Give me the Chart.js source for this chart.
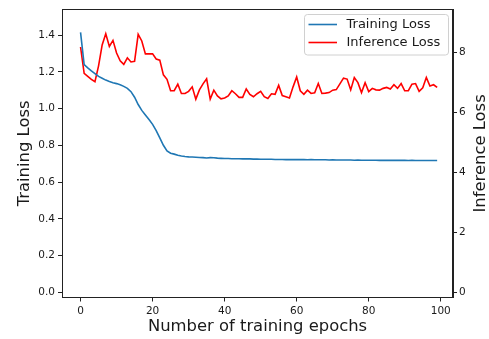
<!DOCTYPE html>
<html>
<head>
<meta charset="utf-8">
<script src="https://cdn.jsdelivr.net/npm/chart.js@4/dist/chart.umd.min.js"></script>
<style>
  html, body { margin: 0; padding: 0; background: #fff; }
  #wrap { width: 489px; height: 339px; }
</style>
</head>
<body>
<div id="wrap"><canvas id="c" width="489" height="339"></canvas></div>
<script>
// Epoch index for each recorded value
const epochs = Array.from({ length: 100 }, (_, i) => i);

// Training loss per epoch (left axis)
const trainingLoss = [
  1.415, 1.240, 1.222, 1.205, 1.190, 1.175, 1.165, 1.155, 1.147, 1.141,
  1.136, 1.130, 1.121, 1.110, 1.092, 1.062, 1.022, 0.990, 0.965, 0.940,
  0.914, 0.880, 0.840, 0.800, 0.770, 0.757, 0.752, 0.746, 0.742, 0.739,
  0.737, 0.736, 0.735, 0.734, 0.733, 0.731, 0.733, 0.732, 0.730, 0.729,
  0.728, 0.728, 0.727, 0.727, 0.727, 0.726, 0.726, 0.726, 0.725, 0.725,
  0.724, 0.724, 0.724, 0.724, 0.723, 0.723, 0.723, 0.722, 0.723, 0.722,
  0.722, 0.722, 0.722, 0.721, 0.722, 0.721, 0.721, 0.721, 0.721, 0.720,
  0.721, 0.720, 0.720, 0.720, 0.720, 0.720, 0.719, 0.720, 0.719, 0.719,
  0.719, 0.719, 0.719, 0.718, 0.719, 0.718, 0.718, 0.718, 0.718, 0.718,
  0.718, 0.717, 0.718, 0.717, 0.717, 0.717, 0.717, 0.717, 0.717, 0.717
];

// Inference loss per epoch (right axis)
const inferenceLoss = [
  8.18, 7.30, 7.20, 7.10, 7.02, 7.55, 8.25, 8.62, 8.20, 8.40,
  7.98, 7.72, 7.60, 7.82, 7.68, 7.70, 8.60, 8.38, 7.95, 7.95,
  7.95, 7.78, 7.74, 7.25, 7.10, 6.72, 6.72, 6.94, 6.63, 6.63,
  6.70, 6.85, 6.44, 6.75, 6.95, 7.12, 6.44, 6.74, 6.55, 6.45,
  6.48, 6.55, 6.72, 6.62, 6.50, 6.50, 6.78, 6.60, 6.52, 6.62,
  6.70, 6.52, 6.46, 6.62, 6.60, 6.90, 6.56, 6.52, 6.48, 6.85,
  7.18, 6.72, 6.60, 6.74, 6.63, 6.65, 6.96, 6.63, 6.64, 6.66,
  6.74, 6.76, 6.95, 7.14, 7.11, 6.75, 7.16, 6.99, 6.66, 6.99,
  6.69, 6.80, 6.75, 6.74, 6.80, 6.83, 6.78, 6.92, 6.80, 6.96,
  6.72, 6.72, 6.94, 6.96, 6.70, 6.82, 7.16, 6.88, 6.92, 6.83
];

// Tick values for each axis
const xTicks = [0, 20, 40, 60, 80, 100];
const leftTicks = [0.0, 0.2, 0.4, 0.6, 0.8, 1.0, 1.2, 1.4];
const rightTicks = [0, 2, 4, 6, 8];

const rightAxisTitle = 'Inference Loss';

const FONT = "'DejaVu Sans', sans-serif";
const INK = '#1a1a1a';
const TITLE_SIZE = 16.4;

const toPoints = (ys) => epochs.map((x, i) => ({ x, y: ys[i] }));
const fixedTicks = (values) => (scale) => { scale.ticks = values.map(v => ({ value: v })); };

// Frame around the plotting area, the right axis title (reading upward)
// and an in-plot legend box
const framePlugin = {
  id: 'frame',
  afterDraw(chart) {
    const { ctx, chartArea: a } = chart;
    ctx.save();
    ctx.strokeStyle = '#222';
    ctx.lineWidth = 1;
    ctx.strokeRect(Math.round(a.left) + 0.5, Math.round(a.top) + 0.5,
                   Math.round(a.right - a.left) - 1, Math.round(a.bottom - a.top));

    // right axis title, rotated like the left one
    const r1 = chart.scales.y1;
    ctx.save();
    ctx.translate(r1.right - 8, (a.top + a.bottom) / 2);
    ctx.rotate(-Math.PI / 2);
    ctx.fillStyle = INK;
    ctx.font = `${TITLE_SIZE}px ${FONT}`;
    ctx.textAlign = 'center';
    ctx.textBaseline = 'middle';
    ctx.fillText(rightAxisTitle, 0, 0);
    ctx.restore();

    // legend
    const bx = 304.5, by = 14.5, bw = 144, bh = 40.5, r = 3;
    ctx.beginPath();
    ctx.moveTo(bx + r, by);
    ctx.arcTo(bx + bw, by, bx + bw, by + bh, r);
    ctx.arcTo(bx + bw, by + bh, bx, by + bh, r);
    ctx.arcTo(bx, by + bh, bx, by, r);
    ctx.arcTo(bx, by, bx + bw, by, r);
    ctx.closePath();
    ctx.fillStyle = 'rgba(255,255,255,0.85)';
    ctx.fill();
    ctx.strokeStyle = '#d0d0d0';
    ctx.stroke();

    const rows = [24.5, 42.5];
    chart.data.datasets.forEach((ds, i) => {
      ctx.beginPath();
      ctx.strokeStyle = ds.borderColor;
      ctx.lineWidth = ds.borderWidth;
      ctx.moveTo(308.5, rows[i]);
      ctx.lineTo(337, rows[i]);
      ctx.stroke();
      ctx.fillStyle = INK;
      ctx.font = `13px ${FONT}`;
      ctx.textBaseline = 'middle';
      ctx.textAlign = 'left';
      ctx.fillText(ds.label, 346.5, rows[i] + 0.5);
    });
    ctx.restore();
  }
};

new Chart(document.getElementById('c'), {
  type: 'line',
  data: {
    datasets: [
      {
        label: 'Training Loss',
        data: toPoints(trainingLoss),
        borderColor: '#1f77b4',
        borderWidth: 1.6,
        pointRadius: 0,
        tension: 0,
        yAxisID: 'y'
      },
      {
        label: 'Inference Loss',
        data: toPoints(inferenceLoss),
        borderColor: '#ff0000',
        borderWidth: 1.6,
        pointRadius: 0,
        tension: 0,
        yAxisID: 'y1'
      }
    ]
  },
  options: {
    responsive: false,
    animation: false,
    devicePixelRatio: 1,
    layout: { padding: { top: 8, left: 0, right: 0, bottom: 0 } },
    plugins: { legend: { display: false }, tooltip: { enabled: false } },
    scales: {
      x: {
        type: 'linear',
        min: -5.15,
        max: 103.4,
        afterBuildTicks: fixedTicks(xTicks),
        afterFit: (s) => { s.height = 41.5; },
        grid: { drawOnChartArea: false, drawTicks: true, tickLength: 4, color: '#222' },
        border: { display: true, color: '#222', width: 1 },
        ticks: { font: { family: FONT, size: 10.5 }, color: INK, padding: 3, maxRotation: 0 },
        title: {
          display: true,
          text: 'Number of training epochs',
          font: { family: FONT, size: TITLE_SIZE },
          color: INK,
          padding: { top: 0, bottom: 2.4 }
        }
      },
      y: {
        type: 'linear',
        position: 'left',
        min: -0.0287,
        max: 1.5406,
        afterBuildTicks: fixedTicks(leftTicks),
        afterFit: (s) => { s.width = 62; },
        grid: { drawOnChartArea: false, drawTicks: true, tickLength: 4, color: '#222' },
        border: { display: true, color: '#222', width: 1 },
        ticks: {
          font: { family: FONT, size: 10.5 },
          color: INK,
          padding: 3,
          callback: (v) => v.toFixed(1)
        },
        title: {
          display: true,
          text: 'Training Loss',
          font: { family: FONT, size: TITLE_SIZE },
          color: INK,
          padding: { top: 14.5, bottom: 0 }
        }
      },
      y1: {
        type: 'linear',
        position: 'right',
        min: -0.176,
        max: 9.437,
        afterBuildTicks: fixedTicks(rightTicks),
        afterFit: (s) => { s.width = 36; },
        grid: { drawOnChartArea: false, drawTicks: true, tickLength: 4, color: '#222' },
        border: { display: true, color: '#222', width: 1 },
        ticks: { font: { family: FONT, size: 10.5 }, color: INK, padding: 2 },
        title: { display: false }
      }
    }
  },
  plugins: [framePlugin]
});
</script>
</body>
</html>
